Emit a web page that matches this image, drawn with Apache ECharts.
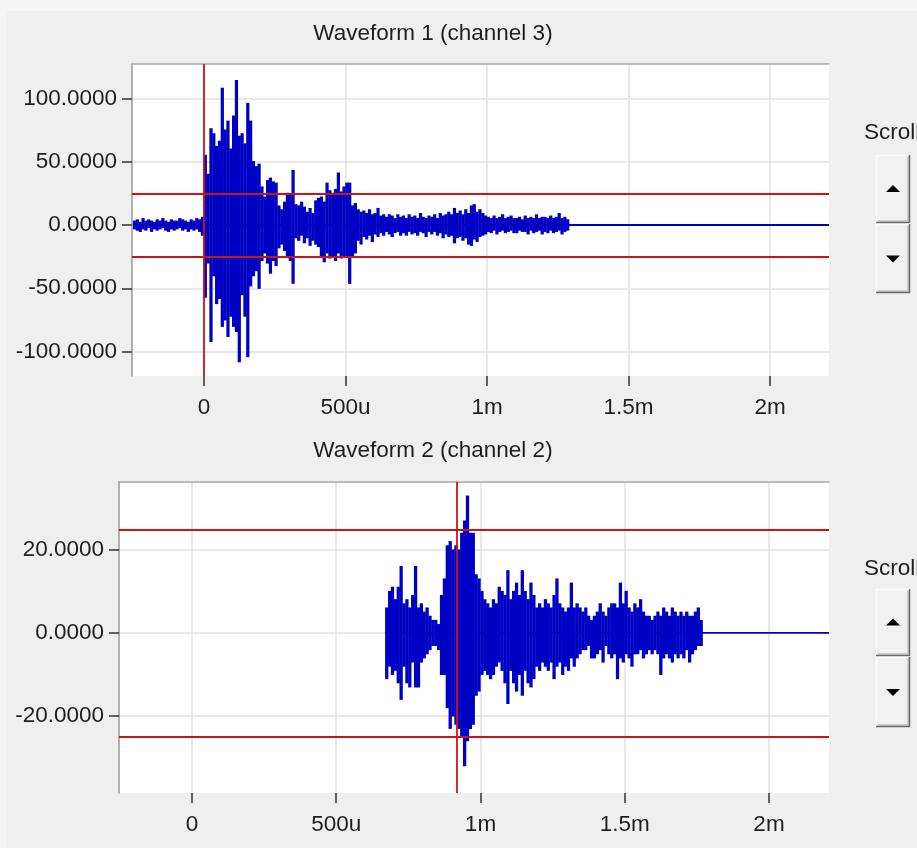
<!DOCTYPE html>
<html>
<head>
<meta charset="utf-8">
<title>Waveforms</title>
<script src="https://cdn.jsdelivr.net/npm/echarts@6.0.0/dist/echarts.min.js"></script>
<style>
  html, body { margin: 0; padding: 0; background: #f5f5f5; }
  #main { width: 917px; height: 848px; }
</style>
</head>
<body>
<div id="main"></div>
<script>
// time axis in microseconds
var xTickVals = [0, 500, 1000, 1500, 2000];
var xTickLabels = ['0', '500u', '1m', '1.5m', '2m'];
var y1Ticks = [-100, -50, 0, 50, 100];
var y2Ticks = [-20, 0, 20];
var thresholds = [25, -25];
var cursor1 = 0;
var cursor2 = 918;
var binWidth = 10;

// waveform 1 (channel 3): max / min per 10u bin, starting at -250u
var w1Start = -250, w1End = 1290;
var w1Hi = [
  3, 4, 2, 5, 3, 4, 3, 2, 4, 3,
  5, 3, 2, 4, 3, 3, 5, 4, 3, 2,
  4, 3, 5, 4, 6,
  55, 40, 76, 72, 62, 66, 108, 75, 82, 60,
  86, 114, 70, 72, 64, 96, 82, 50, 46, 48,
  30, 22, 35, 37, 34, 33, 15, 12, 18, 25,
  24, 43, 16, 15, 18, 14, 10, 13, 9, 19,
  21, 22, 18, 33, 27, 25, 28, 41, 26, 30,
  33, 33, 15, 17, 12, 10, 11, 9, 12, 8,
  9, 13, 7, 8, 6, 8, 7, 5, 8, 6,
  7, 5, 8, 6, 7, 5, 9, 6, 5, 7,
  6, 8, 5, 9, 7, 8, 10, 8, 13, 9,
  11, 8, 12, 9, 15, 16, 10, 12, 9, 7,
  6, 5, 7, 5, 6, 8, 5, 6, 7, 5,
  5, 6, 4, 7, 5, 6, 5, 8, 5, 6,
  6, 5, 7, 5, 6, 9, 5, 6, 4
];
var w1Lo = [
  -3, -4, -5, -3, -4, -2, -5, -3, -4, -3,
  -2, -4, -5, -3, -4, -3, -2, -4, -3, -5,
  -3, -4, -3, -5, -8,
  -57, -30, -92, -40, -62, -58, -80, -75, -88, -72,
  -80, -84, -108, -55, -72, -104, -48, -40, -36, -50,
  -28, -22, -30, -38, -28, -32, -18, -15, -20, -25,
  -28, -46, -10, -12, -8, -14, -10, -16, -12, -15,
  -17, -24, -29, -22, -26, -24, -28, -22, -26, -24,
  -25, -46, -25, -22, -12, -15, -9, -11, -8, -13,
  -7, -9, -6, -8, -5, -7, -9, -6, -5, -8,
  -6, -8, -5, -7, -6, -8, -5, -6, -9, -5,
  -7, -5, -8, -6, -10, -7, -9, -8, -14, -10,
  -9, -12, -10, -15, -16, -11, -13, -9, -8, -7,
  -5, -6, -4, -7, -5, -4, -6, -5, -4, -6,
  -6, -4, -5, -5, -7, -4, -6, -5, -4, -7,
  -5, -6, -4, -6, -5, -4, -7, -5, -4
];

// waveform 2 (channel 2): max / min per 10u bin, starting at 670u
var w2Start = 670, w2End = 1770;
var w2Hi = [
  6, 10, 11, 8, 11, 16, 7, 8, 6, 9,
  16, 6, 7, 5, 6, 4, 3, 3, 2, 9,
  13, 21, 22, 20, 21, 20, 24, 27, 33, 24,
  24, 14, 13, 10, 8, 7, 6, 8, 7, 11,
  10, 9, 15, 8, 10, 12, 9, 15, 10, 8,
  12, 9, 6, 7, 6, 8, 7, 6, 9, 13,
  7, 6, 5, 6, 12, 6, 7, 6, 5, 6,
  4, 3, 4, 5, 7, 5, 4, 6, 7, 7,
  6, 12, 7, 10, 6, 5, 7, 6, 8, 5,
  4, 4, 3, 4, 5, 4, 6, 5, 4, 6,
  5, 4, 5, 4, 5, 4, 4, 5, 6, 3
];
var w2Lo = [
  -11, -8, -10, -9, -12, -16, -8, -12, -13, -7,
  -13, -13, -7, -6, -5, -4, -3, -3, -4, -10,
  -10, -18, -23, -20, -22, -23, -25, -32, -26, -23,
  -22, -15, -14, -10, -9, -10, -11, -10, -8, -7,
  -9, -12, -17, -9, -12, -14, -10, -15, -9, -12,
  -13, -11, -8, -9, -7, -8, -9, -7, -11, -8,
  -7, -10, -8, -9, -6, -8, -6, -5, -4, -4,
  -3, -6, -6, -5, -4, -7, -3, -5, -6, -5,
  -11, -6, -7, -5, -6, -8, -5, -5, -4, -6,
  -5, -4, -5, -4, -5, -10, -6, -5, -6, -7,
  -5, -6, -5, -6, -4, -7, -5, -4, -3, -3
];

var xMax = 2208;
var FONT = 'Liberation Sans';
var TEXT = '#1e1e1e';
var TRACE = '#0000c4';

// min/max per bin: [centre time, max, min]
function buildBins(start, hi, lo) {
  var rows = [];
  for (var i = 0; i < hi.length; i++) {
    rows.push([start + i * binWidth + binWidth / 2, hi[i], lo[i]]);
  }
  return rows;
}

// draw each bin as one filled column, like a scope display does per pixel
function renderBin(params, api) {
  var top = api.coord([api.value(0), api.value(1)]);
  var bottom = api.coord([api.value(0), api.value(2)]);
  var w = api.size([binWidth, 0])[0];
  return {
    type: 'rect',
    shape: { x: top[0] - w / 2 - 0.2, y: top[1] - 0.6, width: w + 0.4, height: bottom[1] - top[1] + 1.2 },
    style: { fill: TRACE }
  };
}

function xAxisBottom(idx, min) {
  return {
    type: 'value', gridIndex: idx, min: min, max: xMax, position: 'bottom',
    axisLine: { show: false, onZero: false },
    axisTick: { show: true, length: 10, customValues: xTickVals, lineStyle: { color: '#333', width: 1.5 } },
    axisLabel: {
      customValues: xTickVals, margin: 20, color: TEXT, fontSize: 22.5, fontFamily: FONT,
      formatter: function(v) { return xTickLabels[xTickVals.indexOf(v)]; }
    },
    splitLine: { show: true, lineStyle: { color: '#e0e0e0', width: 1.5 } }
  };
}
function xAxisTop(idx, min) {
  return {
    type: 'value', gridIndex: idx, min: min, max: xMax, position: 'top',
    axisLine: { show: true, onZero: false, lineStyle: { color: '#a8a8a8', width: 1.5 } },
    axisTick: { show: false }, axisLabel: { show: false }, splitLine: { show: false }
  };
}
function yAxis(idx, min, max, ticks) {
  return {
    type: 'value', gridIndex: idx, min: min, max: max,
    axisLine: { show: true, onZero: false, lineStyle: { color: '#999', width: 1.5 } },
    axisTick: { show: true, length: 10, customValues: ticks, lineStyle: { color: '#333', width: 1.5 } },
    axisLabel: {
      customValues: ticks, margin: 15, color: TEXT, fontSize: 22.5, fontFamily: FONT,
      formatter: function(v) { return v.toFixed(4); }
    },
    splitLine: { show: true, lineStyle: { color: '#e0e0e0', width: 1.5 } }
  };
}
function markLines(cursor) {
  var data = [{ xAxis: cursor }];
  thresholds.forEach(function(t) { data.push({ yAxis: t }); });
  return {
    silent: true, symbol: ['none', 'none'], animation: false,
    label: { show: false }, emphasis: { disabled: true },
    lineStyle: { color: '#cc1414', width: 1.8, type: 'solid' },
    data: data
  };
}
function traceSeries(name, axisIdx, start, hi, lo, end, cursor) {
  return [
    {
      name: name, type: 'custom', xAxisIndex: axisIdx * 2, yAxisIndex: axisIdx,
      data: buildBins(start, hi, lo), renderItem: renderBin,
      encode: { x: 0, y: [1, 2] }, silent: true, z: 2
    },
    {
      // flat trace after the record ends
      name: name, type: 'line', xAxisIndex: axisIdx * 2, yAxisIndex: axisIdx,
      data: [[start, 0], [end, 0], [xMax, 0]],
      showSymbol: false, symbol: 'none', emphasis: { disabled: true }, z: 2,
      lineStyle: { color: TRACE, width: 1.8 },
      markLine: markLines(cursor)
    }
  ];
}

function button(x, y, w, h, up) {
  var cx = x + w / 2, cy = y + h / 2;
  var tri = up ? [[cx - 7, cy + 3], [cx + 7, cy + 3], [cx, cy - 4]]
               : [[cx - 7, cy - 3], [cx + 7, cy - 3], [cx, cy + 4]];
  return [
    { type: 'rect', z: 5, shape: { x: x, y: y, width: w, height: h }, style: { fill: '#f1f1f1' } },
    { type: 'polyline', z: 6, shape: { points: [[x + 0.5, y + h], [x + 0.5, y + 0.5], [x + w, y + 0.5]] }, style: { stroke: '#fafafa', lineWidth: 1.5, fill: null } },
    { type: 'polyline', z: 6, shape: { points: [[x + 1.5, y + h - 2], [x + w - 2, y + h - 2], [x + w - 2, y + 1.5]] }, style: { stroke: '#a8a8a8', lineWidth: 1, fill: null } },
    { type: 'polyline', z: 6, shape: { points: [[x, y + h - 0.5], [x + w - 0.5, y + h - 0.5], [x + w - 0.5, y]] }, style: { stroke: '#6a6a6a', lineWidth: 1.5, fill: null } },
    { type: 'polygon', z: 7, shape: { points: tri }, style: { fill: '#000' } }
  ];
}
function label(text, x, y, align) {
  return { type: 'text', z: 5, x: x, y: y, style: { text: text, fill: TEXT, fontSize: 22.5, fontFamily: FONT, align: align, verticalAlign: 'middle' } };
}

var chart = echarts.init(document.getElementById('main'));

var elements = [
  { type: 'rect', z: -10, shape: { x: 7, y: 11, width: 910, height: 837 }, style: { fill: '#efefef' } },
  label('Waveform 1 (channel 3)', 433, 34, 'center'),
  label('Waveform 2 (channel 2)', 433, 451, 'center'),
  label('Scroll', 864, 133, 'left'),
  label('Scroll', 864, 569, 'left')
];
elements = elements.concat(button(876, 155, 34, 68, true), button(876, 224, 34, 69, false),
  button(876, 589, 34, 67, true), button(876, 657, 34, 70, false));

var option = {
  backgroundColor: '#f5f5f5',
  animation: false,
  textStyle: { fontFamily: FONT },
  graphic: { elements: elements },
  grid: [
    { left: 132, top: 64, width: 697, height: 312, show: true, backgroundColor: '#fff', borderWidth: 0 },
    { left: 119, top: 482, width: 710, height: 311, show: true, backgroundColor: '#fff', borderWidth: 0 }
  ],
  xAxis: [xAxisBottom(0, -254), xAxisTop(0, -254), xAxisBottom(1, -253), xAxisTop(1, -253)],
  yAxis: [yAxis(0, -119.3, 127.2, y1Ticks), yAxis(1, -38.6, 36.4, y2Ticks)],
  series: traceSeries('Waveform 1', 0, w1Start, w1Hi, w1Lo, w1End, cursor1)
    .concat(traceSeries('Waveform 2', 1, w2Start, w2Hi, w2Lo, w2End, cursor2))
};
chart.setOption(option);
window.onresize = function() { chart.resize(); };
</script>
</body>
</html>
